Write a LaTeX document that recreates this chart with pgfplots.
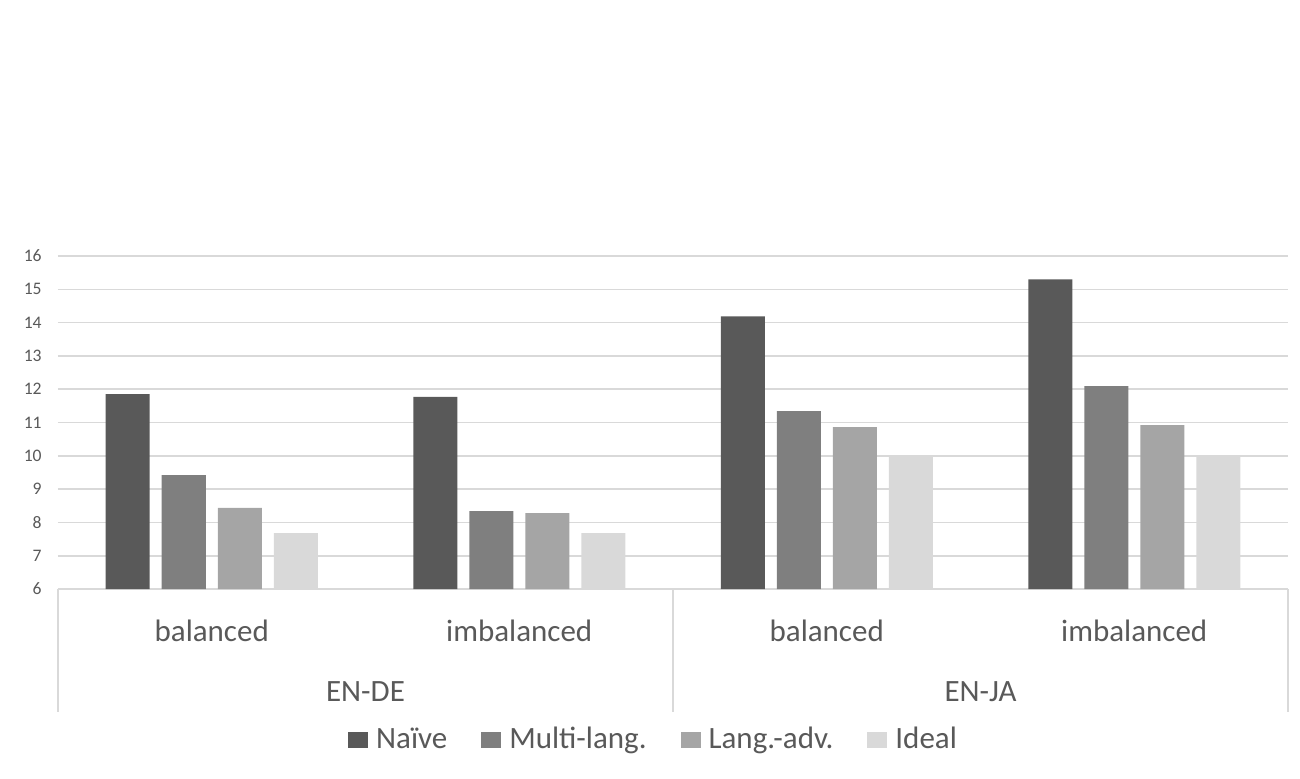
\documentclass[border=0pt]{standalone}
\usepackage{fontspec}
\setmainfont{Carlito}
\usepackage{pgfplots}
\pgfplotsset{compat=1.18}
\usetikzlibrary{calc}
\definecolor{txtgray}{HTML}{595959}
\definecolor{gridgray}{HTML}{D9D9D9}
\definecolor{cnaive}{HTML}{595959}
\definecolor{cmulti}{HTML}{7F7F7F}
\definecolor{clang}{HTML}{A5A5A5}
\definecolor{cideal}{HTML}{D9D9D9}

\begin{document}
\begin{tikzpicture}
\begin{axis}[
    name=ax,
    scale only axis,
    width=615pt, height=166.5pt,
    ybar=6pt, bar width=22pt,
    xmin=-0.5, xmax=3.5,
    ymin=6, ymax=16,
    ytick={6,7,...,16},
    xtick={0,1,2,3},
    xticklabels={balanced,imbalanced,balanced,imbalanced},
    axis line style={draw=none},
    major tick length=0pt,
    ymajorgrids,
    grid style={gridgray, line width=0.8pt},
    yticklabel style={font=\fontsize{8.8}{10}\selectfont, text=txtgray, inner sep=0pt, xshift=-8pt},
    xticklabel style={font=\fontsize{15.5}{18}\selectfont, text=txtgray, anchor=base, yshift=-26pt},
    /pgf/number format/assume math mode=true,
    legend columns=4,
    legend style={draw=none, font=\fontsize{15.5}{18}\selectfont, text=txtgray,
        at={(0.485,0)}, anchor=center, yshift=-75.5pt,
        nodes={text height=11pt, text depth=3pt},
        /tikz/every odd column/.append style={column sep=2pt},
        /tikz/every even column/.append style={column sep=15pt}},
    legend image code/.code={\path[#1] (0pt,-4pt) rectangle (10pt,4pt);},
  ]
  \addplot[fill=cnaive, draw=none] coordinates {(0,11.85) (1,11.77) (2,14.19) (3,15.30)};
  \addplot[fill=cmulti, draw=none] coordinates {(0,9.42) (1,8.34) (2,11.34) (3,12.09)};
  \addplot[fill=clang, draw=none] coordinates {(0,8.44) (1,8.28) (2,10.86) (3,10.92)};
  \addplot[fill=cideal, draw=none] coordinates {(0,7.68) (1,7.68) (2,10.02) (3,10.02)};
  \legend{Naïve, Multi-lang., Lang.-adv., Ideal}
\end{axis}
% group separators and group labels below the category labels
\foreach \f in {0,0.5,1}
  \draw[gridgray, line width=0.8pt] ($(ax.south west)!\f!(ax.south east)$) -- ++(0,-61.5pt);
\node[font=\fontsize{15.5}{18}\selectfont, text=txtgray, anchor=base]
  at ($(ax.south west)!0.25!(ax.south east)+(0,-56pt)$) {EN-DE};
\node[font=\fontsize{15.5}{18}\selectfont, text=txtgray, anchor=base]
  at ($(ax.south west)!0.75!(ax.south east)+(0,-56pt)$) {EN-JA};
\pgfresetboundingbox
\path (ax.south west) ++(-29pt,-94.5pt);
\path (ax.north east) ++(6pt,128pt);
\end{tikzpicture}
\end{document}
